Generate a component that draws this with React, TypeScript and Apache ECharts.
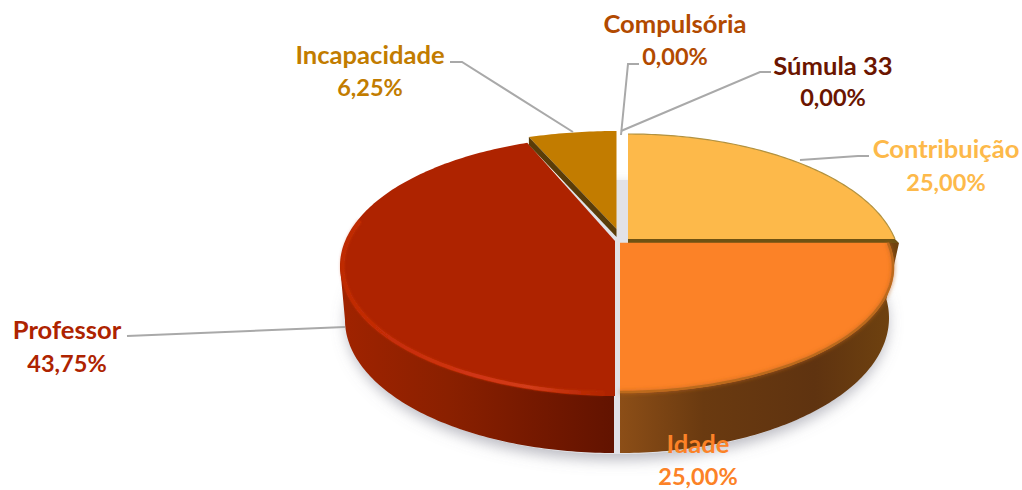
import React, { useEffect, useRef } from "react";
import * as echarts from "echarts";

const categories = ["Contribuição", "Idade", "Professor", "Incapacidade", "Compulsória", "Súmula 33"];
const shares = [25, 25, 43.75, 6.25, 0, 0];
const colors = ["#FDB94A", "#FC8227", "#AE2300", "#C27C00", "#B24A00", "#6B1500"];

type Face = { cx: number; cy: number; rx: number; ry: number; a: number };
const faces: Record<string, Face> = {
  "Contribuição": { cx: 628, cy: 264, rx: 272, ry: 130, a: 0.192 },
  "Idade": { cx: 620, cy: 267, rx: 274, ry: 126, a: 0.192 },
  "Professor": { cx: 615, cy: 266, rx: 275, ry: 130, a: 0.192 },
  "Incapacidade": { cx: 616.5, cy: 261, rx: 290, ry: 130, a: 0.246 },
};
const labelCenters: Record<string, [number, number, number]> = {
  "Contribuição": [946, 148, 182],
  "Idade": [698, 443, 476],
  "Professor": [67, 329, 363],
  "Incapacidade": [370, 54, 87],
  "Compulsória": [675, 23, 56],
  "Súmula 33": [833, 65, 97],
};
const leaders: Record<string, number[][]> = {
  "Contribuição": [[800, 160], [858, 156], [869, 156]],
  "Professor": [[127, 336], [345, 327]],
  "Incapacidade": [[450, 62], [462, 62], [573, 132]],
  "Compulsória": [[621, 135], [628, 64], [639, 64]],
  "Súmula 33": [[621, 131], [760, 72], [771, 72]],
};

const rad = (d: number) => (d * Math.PI) / 180;
const project = (f: Face, deg: number, inset = 0): number[] => {
  const u = Math.sin(rad(deg));
  const v = Math.cos(rad(deg));
  const d = 1 + f.a * v;
  return [
    f.cx + ((f.rx - inset) * u * Math.sqrt(1 - f.a * f.a)) / d,
    f.cy - ((f.ry - inset) * (v + f.a)) / d,
  ];
};
const arc = (f: Face, from: number, to: number, inset = 0): number[][] => {
  const out: number[][] = [];
  const n = Math.max(2, Math.ceil(Math.abs(to - from)));
  for (let i = 0; i <= n; i++) out.push(project(f, from + ((to - from) * i) / n, inset));
  return out;
};
const apex = (f: Face) => [f.cx, f.cy - f.ry * f.a];
const ellipseArc = (cx: number, cy: number, rx: number, ry: number, from: number, to: number) => {
  const out: number[][] = [];
  const n = Math.ceil(Math.abs(to - from));
  for (let i = 0; i <= n; i++) {
    const t = rad(from + ((to - from) * i) / n);
    out.push([cx + rx * Math.cos(t), cy + ry * Math.sin(t)]);
  }
  return out;
};
const hGrad = (x: number, x2: number, stops: [number, string][]) =>
  new echarts.graphic.LinearGradient(
    x, 0, x2, 0,
    stops.map(([offset, color]) => ({ offset, color })),
    true
  );

const total = shares.reduce((a, b) => a + b, 0);
const starts: number[] = [];
shares.reduce((acc, v, i) => {
  starts[i] = acc;
  return acc + (v / total) * 360;
}, 0);

function sideFor(name: string, f: Face, from: number, to: number): any[] {
  if (name === "Contribuição") {
    const [ax, ay] = apex(f);
    const [ex, ey] = project(f, to);
    return [{
      type: "polygon", z2: 3,
      shape: { points: [[ax, ay], [ex, ey], [ex + 4, ey + 4], [ax, ay + 4]] },
      style: { fill: "#6F5213" },
    }];
  }
  if (name === "Incapacidade") {
    const [ax, ay] = apex(f);
    const [ex, ey] = project(f, from);
    return [{
      type: "polygon", z2: 5,
      shape: { points: [[ex, ey], [ax, ay], [ax, ay + 8], [ex, ey + 8]] },
      style: { fill: "#5A3C08" },
    }];
  }
  if (name === "Idade") {
    return [{
      type: "polygon", z2: 2,
      shape: { points: [[f.cx, 243], [899, 243], ...ellipseArc(f.cx, 318, 269, 135, -8, 90)] },
      style: { fill: hGrad(620, 898, [[0, "#8C4E17"], [0.3, "#6A3A10"], [0.7, "#5F3310"], [1, "#70430F"]]) },
    }];
  }
  if (name === "Professor") {
    return [{
      type: "polygon", z2: 2,
      shape: { points: [[f.cx - 1, 300], [f.cx - 1, 453], ...ellipseArc(f.cx - 1, 320, 269, 133, 90, 180), [340, 266]] },
      style: { fill: hGrad(340, 614, [[0, "#A02300"], [0.4, "#8A2000"], [0.7, "#761900"], [1, "#621300"]]) },
    }];
  }
  return [];
}

function rimFor(name: string, f: Face, from: number, to: number): any[] {
  if (name === "Professor") {
    return [{
      type: "polyline", z2: 4,
      shape: { points: arc(f, 182, 280, 2.5) },
      style: {
        fill: "none", lineWidth: 3.5, shadowBlur: 3, shadowColor: "rgba(205,55,20,0.5)",
        stroke: hGrad(340, 612, [[0, "#BE2A04"], [0.25, "#C82E08"], [0.5, "#D03516"], [0.7, "#D23C1A"], [0.95, "#B42600"], [1, "#AE2300"]]),
      },
    }];
  }
  if (name === "Idade") {
    return [{
      type: "polyline", z2: 4,
      shape: { points: arc(f, from, to, 1) },
      style: { fill: "none", lineWidth: 2.5, stroke: "#BC6A1F", shadowBlur: 4, shadowColor: "rgba(190,100,30,0.9)" },
    }];
  }
  if (name === "Contribuição") {
    return [{
      type: "polyline", z2: 4,
      shape: { points: arc(f, from, to) },
      style: { fill: "none", lineWidth: 1.2, stroke: "#B29240" },
    }];
  }
  return [];
}

const renderSlice = (params: any) => {
  const i = params.dataIndex;
  const name = categories[i];
  const color = colors[i];
  const children: any[] = [];
  const f = faces[name];
  if (shares[i] > 0 && f) {
    const from = starts[i];
    const to = from + (shares[i] / total) * 360;
    children.push(...sideFor(name, f, from, to));
    children.push({
      type: "polygon",
      z2: name === "Incapacidade" ? 4 : 3,
      shape: { points: [apex(f), ...arc(f, from, to)] },
      style: { fill: color },
    });
    children.push(...rimFor(name, f, from, to));
  }
  if (leaders[name]) {
    children.push({
      type: "polyline", z2: 6,
      shape: { points: leaders[name] },
      style: { fill: "none", stroke: "#A9A9A9", lineWidth: 2 },
    });
  }
  const [lx, y1, y2] = labelCenters[name];
  const font = { fontFamily: "Lato", fontWeight: "bold", fill: color, align: "center", verticalAlign: "middle" };
  children.push({ type: "text", z2: 7, style: { ...font, fontSize: 25.6, text: name, x: lx, y: y1 } });
  children.push({
    type: "text", z2: 7,
    style: { ...font, fontSize: 23.5, text: shares[i].toFixed(2).replace(".", ",") + "%", x: lx, y: y2 },
  });
  return { type: "group", children };
};

const renderBackdrop = () => ({
  type: "group",
  children: [
    {
      type: "polygon",
      shape: { points: ellipseArc(617, 317, 271, 137, 0, 359) },
      style: {
        fill: "#E2E2E7", shadowBlur: 14, shadowOffsetY: 6, shadowColor: "rgba(120,120,135,0.5)",
      },
    },
  ],
});

export default function App() {
  const ref = useRef<HTMLDivElement>(null);
  useEffect(() => {
    const chart = echarts.init(ref.current!, null, { renderer: "svg" });
    chart.setOption({
      animation: false,
      backgroundColor: "#FFFFFF",
      series: [
        { type: "custom", coordinateSystem: "none", z: 1, silent: true, data: [0], renderItem: renderBackdrop },
        {
          type: "custom", coordinateSystem: "none", z: 2, silent: true,
          data: categories.map((name, i) => ({ name, value: shares[i] })),
          renderItem: renderSlice,
        },
      ],
    });
    return () => chart.dispose();
  }, []);
  return <div ref={ref} style={{ position: "fixed", left: 0, top: 0, width: 1022, height: 490 }} />;
}
